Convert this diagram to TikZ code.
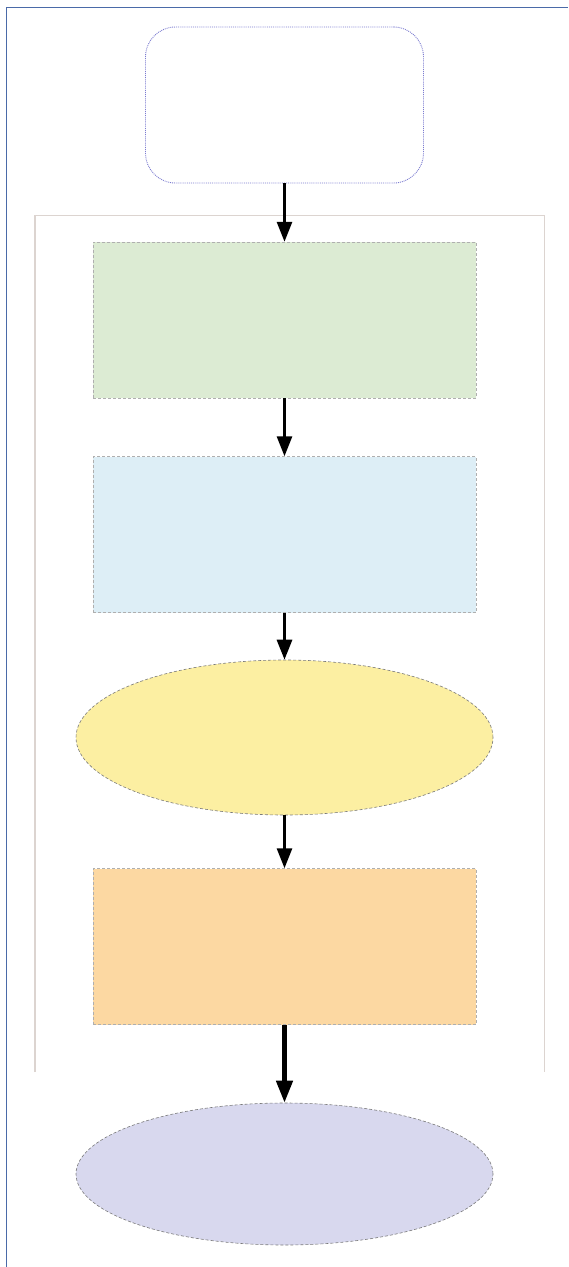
\documentclass[tikz,border=0pt]{standalone}
\usetikzlibrary{shapes.geometric,arrows.meta}
\definecolor{framec}{HTML}{4A6AA8}
\definecolor{boxline}{HTML}{7C7CD0}
\definecolor{contline}{HTML}{DCD4D0}
\definecolor{greenf}{HTML}{DCEBD3}
\definecolor{bluef}{HTML}{DDEEF6}
\definecolor{yellowf}{HTML}{FCEFA2}
\definecolor{orangef}{HTML}{FCD8A2}
\definecolor{purplef}{HTML}{D8D8EE}
\definecolor{edgec}{HTML}{7A7A7A}
\begin{document}
\begin{tikzpicture}[x=1pt,y=-1pt,
  stagebox/.style={rectangle,minimum width=383pt,minimum height=156pt,inner sep=0pt,
    draw=edgec!60,densely dashed,line width=0.5pt},
  roundbox/.style={rectangle,rounded corners=30pt,minimum width=278pt,minimum height=156pt,
    inner sep=0pt,draw=boxline,densely dotted,line width=0.9pt,fill=white},
  oval/.style={ellipse,minimum width=417pt,minimum height=155pt,inner sep=0pt,
    draw=edgec,densely dashed,line width=0.6pt},
  flow/.style={draw=black,line width=3pt,-{Triangle[width=15pt,length=20pt]}},
  bigflow/.style={draw=black,line width=4.5pt,-{Triangle[width=16pt,length=22pt]}}]
  \useasboundingbox (0,0) rectangle (568,1267);
  \fill[white] (0,0) rectangle (568,1267);
  % page frame: only the left and top rules
  \draw[framec,line width=1.2pt] (6.5,1267) -- (6.5,7.5) -- (568,7.5);
  % container, open at the bottom
  \draw[contline,line width=1.2pt] (35,1072) -- (35,215.5) -- (544.5,215.5) -- (544.5,1072);
  % nodes
  \node[roundbox] (start) at (284.5,105) {};
  \node[stagebox,fill=greenf] (s1) at (284.5,320) {};
  \node[stagebox,fill=bluef] (s2) at (284.5,534.5) {};
  \node[oval,fill=yellowf] (s3) at (284.5,737.5) {};
  \node[stagebox,fill=orangef] (s4) at (284.5,946.5) {};
  \node[oval,fill=purplef,minimum height=142pt] (s5) at (284.5,1174) {};
  % connectors
  \draw[flow] (start.south) -- (s1.north);
  \draw[flow] (s1.south) -- (s2.north);
  \draw[flow] (s2.south) -- (s3.north);
  \draw[flow] (s3.south) -- (s4.north);
  \draw[bigflow] (s4.south) -- (s5.north);
\end{tikzpicture}
\end{document}
